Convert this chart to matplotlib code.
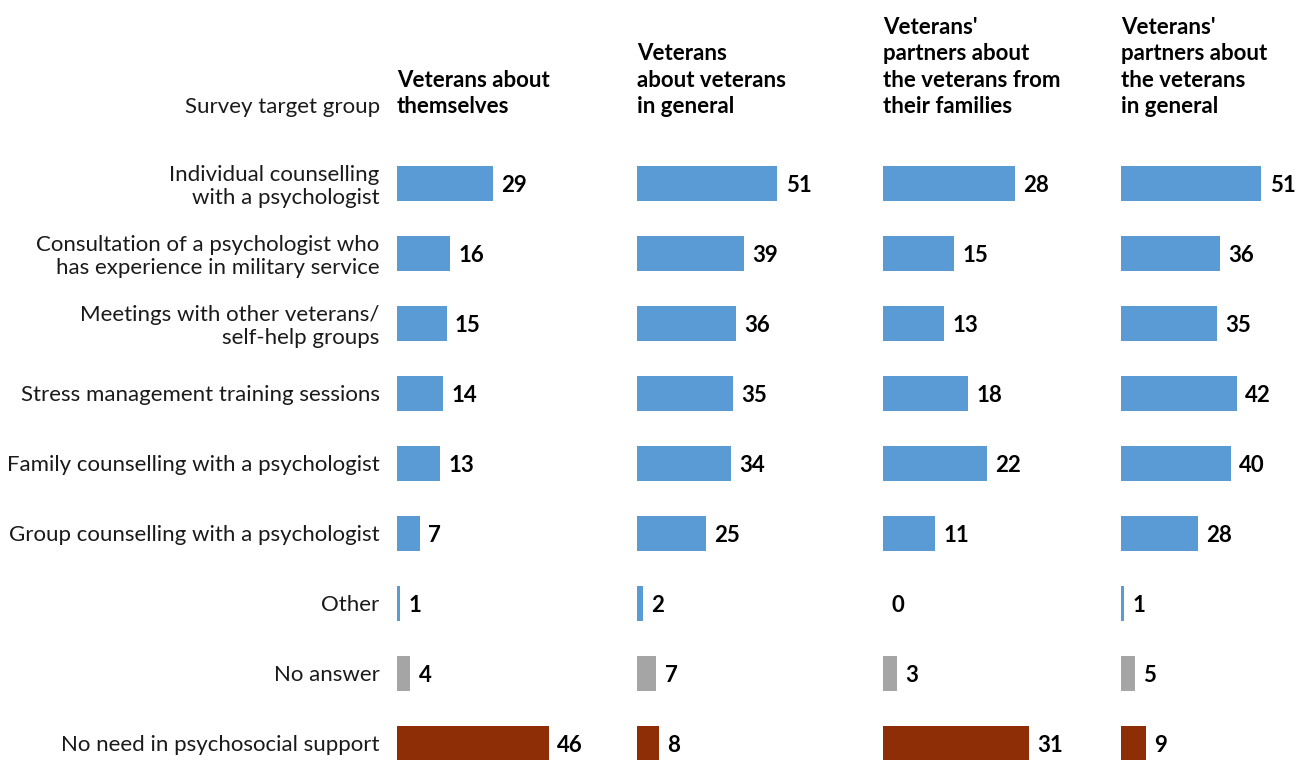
import matplotlib
matplotlib.use("Agg")
import matplotlib.pyplot as plt

plt.rcParams['font.family'] = ['Lato', 'DejaVu Sans']

categories = ['Individual counselling\nwith a psychologist',
              'Consultation of a psychologist who\nhas experience in military service',
              'Meetings with other veterans/\nself-help groups',
              'Stress management training sessions',
              'Family counselling with a psychologist',
              'Group counselling with a psychologist',
              'Other',
              'No answer',
              'No need in psychosocial support']

groups = ["Veterans about\nthemselves",
          "Veterans\nabout veterans\nin general",
          "Veterans'\npartners about\nthe veterans from\ntheir families",
          "Veterans'\npartners about\nthe veterans\nin general"]

vet_self = [29, 16, 15, 14, 13, 7, 1, 4, 46]
vet_general = [51, 39, 36, 35, 34, 25, 2, 7, 8]
partners_family = [28, 15, 13, 18, 22, 11, 0, 3, 31]
partners_general = [51, 36, 35, 42, 40, 28, 1, 5, 9]
values = [vet_self, vet_general, partners_family, partners_general]
axis_max = [50, 60, 35, 60]

BLUE = '#5B9BD5'
GREY = '#A5A5A5'
BROWN = '#8E2E06'
colors = [BLUE] * 7 + [GREY, BROWN]

W, H = 1295, 760
fig = plt.figure(figsize=(W / 100, H / 100), dpi=100)

lefts = [397, 637, 883, 1121]
panel_w = 165
row_h = 70
top = 148
ax_h = H - top
n = len(categories)
fs = 16

for i, (x0, vals) in enumerate(zip(lefts, values)):
    ax = fig.add_axes([x0 / W, 0, panel_w / W, ax_h / H])
    y = list(range(n))
    ax.barh(y, vals, height=0.5, color=colors)
    ax.set_xlim(0, axis_max[i])
    ax.set_ylim(-0.5 + ax_h / row_h, -0.5)
    for s in ax.spines.values():
        s.set_visible(False)
    ax.set_xticks([])
    if i == 0:
        ax.set_yticks(y)
        ax.set_yticklabels(categories, fontsize=fs, color='#1a1a1a',
                           linespacing=1.2)
        ax.tick_params(axis='y', length=0, pad=12.5)
    else:
        ax.set_yticks([])
    for k, v in enumerate(vals):
        ax.annotate(str(v), (v, k), xytext=(6, -2), textcoords='offset points',
                    ha='left', va='center', fontsize=fs, fontweight='bold',
                    color='black')
    fig.text(x0 / W, 1 - 113 / H, groups[i], ha='left', va='baseline',
             fontsize=fs, fontweight='bold', linespacing=1.32)

fig.text(380 / W, 1 - 113 / H, 'Survey target group', ha='right',
         va='baseline', fontsize=fs, color='#1a1a1a')

fig.savefig('out.png', dpi=100)
